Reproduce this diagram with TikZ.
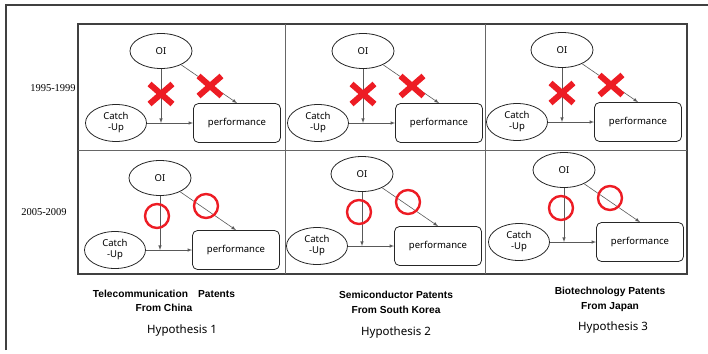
\documentclass[tikz,border=0pt]{standalone}
\usepackage{fontspec}
\setmainfont{Noto Sans}
\newfontfamily\yearfont{Liberation Serif}
\newfontfamily\titlefont{Liberation Sans}
\usepackage{tikz}
\usetikzlibrary{calc,arrows,shapes.geometric}
\definecolor{xred}{RGB}{237,28,36}
\tikzset{
	ovalbox/.style={ellipse,draw=black!85,line width=0.8pt,minimum width=62pt,minimum height=35pt,inner sep=0pt,align=center,font=\fontsize{9.5}{11}\selectfont},
	perfbox/.style={rectangle,rounded corners=5pt,draw=black!85,line width=0.8pt,minimum width=87pt,minimum height=39pt,inner sep=0pt,font=\fontsize{9.5}{11}\selectfont},
	link/.style={draw=black!65,line width=0.6pt,-latex},
	nomark/.style={xred,line width=6pt},
	yesmark/.style={xred,line width=2.4pt},
	yearlbl/.style={font=\yearfont\fontsize{10.5}{12}\selectfont},
	titlelbl/.style={align=center,font=\titlefont\bfseries\fontsize{10.2}{14.5}\selectfont},
	hyplbl/.style={font=\fontsize{11.5}{13}\selectfont}
}

\begin{document}
\begin{tikzpicture}[x=1pt,y=-1pt]
		\useasboundingbox (0,0) rectangle (708,353);
		%frame
		\draw[line width=1.2pt,black!75] (6,350) -- (6,5) -- (708,5);
		%table
		\draw[line width=1.2pt,black!75] (78,24) rectangle (687,274);
		\draw[line width=0.6pt,black!60] (78,150) -- (687,150);
		\draw[line width=0.6pt,black!60] (285,24) -- (285,274);
		\draw[line width=0.6pt,black!60] (485,24) -- (485,274);
		
		\node[yearlbl] (y1) at (53,88) {1995-1999};
		\node[yearlbl] (y2) at (44,212) {2005-2009};
		
		%cells: name/x/y/mark (0 = cross, 1 = circle)
		\foreach \n/\px/\py/\m in {a/161/51/0, b/363/51/0, c/562/50/0, d/160/178/1, e/362/174/1, f/564/170/1}{
			\begin{scope}[shift={(\px,\py)}]
			\node[ovalbox] (oi\n) at (0,0) {OI};
			\node[ovalbox,minimum width=61pt,minimum height=37pt] (cu\n) at (-45,72) {Catch\\-Up};
			\node[perfbox] (pf\n) at (76,72) {performance};
			\coordinate (j\n) at (oi\n |- cu\n);
			\draw[link] (oi\n) -- (j\n);
			\draw[link] (cu\n) -- (pf\n);
			\draw[link] (oi\n) -- (pf\n.north);
			\ifnum\m=0
				\draw[nomark] (-11.5,33) -- (11.5,53) (-11.5,53) -- (11.5,33);
				\draw[nomark] (37.5,25) -- (60.5,45) (37.5,45) -- (60.5,25);
			\else
				\draw[yesmark] (-3,38) circle[radius=12pt];
				\draw[yesmark] (46,28) circle[radius=12pt];
			\fi
			\end{scope}
		}
		
		%labels:
		\node[titlelbl] (t1) at (164,301) {Telecommunication\quad Patents\\From China};
		\node[titlelbl] (t2) at (396,302.5) {Semiconductor Patents\\From South Korea};
		\node[titlelbl] (t3) at (610,299.5) {Biotechnology Patents\\From Japan};
		\node[hyplbl] (h1) at (182,331) {Hypothesis 1};
		\node[hyplbl] (h2) at (396,333) {Hypothesis 2};
		\node[hyplbl] (h3) at (613,328) {Hypothesis 3};
		
\end{tikzpicture}
\end{document}
